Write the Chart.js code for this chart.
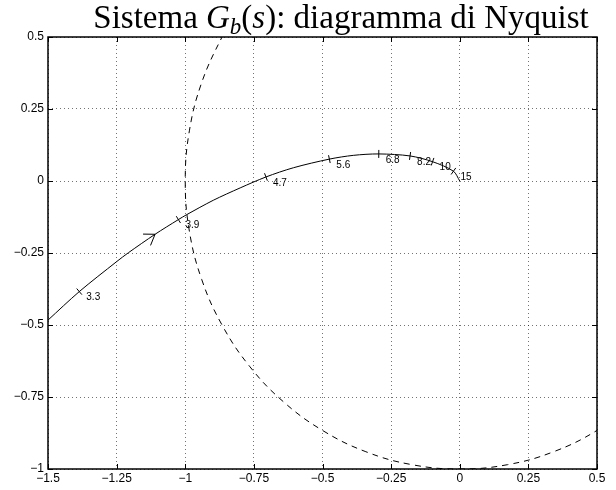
<!DOCTYPE html>
<html>
<head>
<meta charset="utf-8">
<script src="https://cdn.jsdelivr.net/npm/chart.js@4.4.1/dist/chart.umd.min.js"></script>
<style>
  html, body { margin: 0; padding: 0; background: #fff; }
</style>
</head>
<body>
<canvas id="nyq" width="616" height="490"></canvas>
<script>
// Nyquist curve of G_b(s)
const curveX = [-1.5, -1.386, -1.25, -1.207, -1.11, -1.025, -0.995, -0.898, -0.80, -0.706, -0.606, -0.475, -0.388, -0.295, -0.181, -0.099, -0.023, 0];
const curveY = [-0.483, -0.384, -0.280, -0.249, -0.185, -0.134, -0.117, -0.067, -0.024, 0.014, 0.046, 0.076, 0.089, 0.094, 0.087, 0.067, 0.034, 0];

// unit circle (dashed)
const circleX = [-0.819, -0.866, -0.940, -0.985, -1, -0.985, -0.940, -0.866, -0.766, -0.643, -0.5, -0.342, -0.174, 0, 0.174, 0.342, 0.5, 0.643];
const circleY = [0.574, 0.5, 0.342, 0.174, 0, -0.174, -0.342, -0.5, -0.643, -0.766, -0.866, -0.940, -0.985, -1, -0.985, -0.940, -0.866, -0.766];

// frequency marks on the curve
const markX = [-1.386, -1.025, -0.706, -0.475, -0.295, -0.181, -0.099, -0.023];
const markY = [-0.384, -0.134, 0.014, 0.076, 0.094, 0.087, 0.067, 0.034];
const markLabels = ['3.3', '3.9', '4.7', '5.6', '6.8', '8.2', '10', '15'];

// direction arrow
const arrowX = -1.11;
const arrowY = -0.185;

const xTicks = [-1.5, -1.25, -1, -0.75, -0.5, -0.25, 0, 0.25, 0.5];
const yTicks = [-1, -0.75, -0.5, -0.25, 0, 0.25, 0.5];

function fmt(v) {
  const s = String(Math.abs(v));
  return v < 0 ? '\u2212' + s : s;
}

function nearestIdx(x, y) {
  let best = 0, bd = Infinity;
  for (let i = 0; i < curveX.length; i++) {
    const d = (curveX[i] - x) ** 2 + (curveY[i] - y) ** 2;
    if (d < bd) { bd = d; best = i; }
  }
  return best;
}

function tangentAt(xs, ys, x, y) {
  const k = nearestIdx(x, y);
  const a = Math.max(0, k - 1), b = Math.min(curveX.length - 1, k + 1);
  const dx = xs.getPixelForValue(curveX[b]) - xs.getPixelForValue(curveX[a]);
  const dy = ys.getPixelForValue(curveY[b]) - ys.getPixelForValue(curveY[a]);
  const len = Math.hypot(dx, dy);
  return [dx / len, dy / len];
}

const frame = {
  id: 'frame',
  afterDatasetsDraw(chart) {
    const { ctx, chartArea: a } = chart;
    const xs = chart.scales.x, ys = chart.scales.y;
    ctx.save();
    ctx.strokeStyle = '#000';
    ctx.lineWidth = 1;
    // inward ticks
    ctx.beginPath();
    xTicks.forEach(v => {
      const px = Math.round(xs.getPixelForValue(v)) + 0.5;
      ctx.moveTo(px, a.bottom); ctx.lineTo(px, a.bottom - 5);
      ctx.moveTo(px, a.top); ctx.lineTo(px, a.top + 5);
    });
    yTicks.forEach(v => {
      const py = Math.round(ys.getPixelForValue(v)) + 0.5;
      ctx.moveTo(a.left, py); ctx.lineTo(a.left + 5, py);
      ctx.moveTo(a.right, py); ctx.lineTo(a.right - 5, py);
    });
    ctx.stroke();
    ctx.lineWidth = 1.5;
    ctx.strokeRect(a.left, a.top, a.right - a.left, a.bottom - a.top);

    // frequency marks + labels
    ctx.lineWidth = 1;
    ctx.font = '10px "Liberation Sans", Arial, sans-serif';
    ctx.fillStyle = '#000';
    ctx.textBaseline = 'middle';
    ctx.textAlign = 'left';
    markX.forEach((mx, i) => {
      const px = xs.getPixelForValue(mx), py = ys.getPixelForValue(markY[i]);
      const [tx, ty] = tangentAt(xs, ys, mx, markY[i]);
      ctx.beginPath();
      ctx.moveTo(px - ty * 4, py + tx * 4);
      ctx.lineTo(px + ty * 4, py - tx * 4);
      ctx.stroke();
      ctx.fillText(markLabels[i], px + 7, py + 6);
    });

    // arrow head
    const ax = xs.getPixelForValue(arrowX), ay = ys.getPixelForValue(arrowY);
    const [tx, ty] = tangentAt(xs, ys, arrowX, arrowY);
    const ang = Math.atan2(ty, tx);
    ctx.beginPath();
    [0.6, -0.6].forEach(d => {
      ctx.moveTo(ax, ay);
      ctx.lineTo(ax - 12 * Math.cos(ang + d), ay - 12 * Math.sin(ang + d));
    });
    ctx.stroke();
    ctx.restore();
  }
};

const title = {
  id: 'mtitle',
  afterDraw(chart) {
    const ctx = chart.ctx;
    const size = 33;
    const rm = size + 'px "Liberation Serif", "Times New Roman", serif';
    const it = 'italic ' + rm;
    const sub = 'italic ' + Math.round(size * 0.7) + 'px "Liberation Serif", serif';
    const parts = [
      ['Sistema ', rm, 0], ['G', it, 0], ['b', sub, 6], ['(', rm, 0],
      ['s', it, 0], ['): diagramma di Nyquist', rm, 0]
    ];
    ctx.save();
    let w = 0;
    parts.forEach(p => { ctx.font = p[1]; w += ctx.measureText(p[0]).width; });
    let x = 341 - w / 2;
    const base = 28;
    ctx.fillStyle = '#000';
    ctx.textBaseline = 'alphabetic';
    ctx.textAlign = 'left';
    parts.forEach(p => {
      ctx.font = p[1];
      ctx.fillText(p[0], x, base + p[2]);
      x += ctx.measureText(p[0]).width;
    });
    ctx.restore();
  }
};

const tickFont = { family: '"Liberation Sans", Arial, sans-serif', size: 12 };

new Chart(document.getElementById('nyq'), {
  type: 'scatter',
  data: {
    datasets: [
      {
        data: curveX.map((x, i) => ({ x, y: curveY[i] })),
        showLine: true, borderColor: '#000', borderWidth: 1,
        pointRadius: 0, tension: 0.3
      },
      {
        data: circleX.map((x, i) => ({ x, y: circleY[i] })),
        showLine: true, borderColor: '#000', borderWidth: 1, borderDash: [6, 5],
        pointRadius: 0, tension: 0.4
      }
    ]
  },
  options: {
    responsive: false,
    animation: false,
    devicePixelRatio: 1,
    layout: { padding: { left: 0, top: 37, right: 19, bottom: 0 } },
    plugins: { legend: { display: false }, tooltip: { enabled: false }, title: { display: false } },
    scales: {
      x: {
        type: 'linear', min: -1.5, max: 0.5,
        afterBuildTicks: s => { s.ticks = xTicks.map(v => ({ value: v })); },
        afterFit: s => { s.height = 21; },
        ticks: { autoSkip: false, maxRotation: 0, padding: 2, color: '#000', font: tickFont, callback: v => fmt(v) },
        grid: { color: 'rgba(0,0,0,0.55)', lineWidth: 1, drawTicks: false },
        border: { display: false, dash: [1, 3] }
      },
      y: {
        type: 'linear', min: -1, max: 0.5,
        afterBuildTicks: s => { s.ticks = yTicks.map(v => ({ value: v })); },
        afterFit: s => { s.width = 48; },
        ticks: { autoSkip: false, padding: 4, color: '#000', font: tickFont, callback: v => fmt(v) },
        grid: { color: 'rgba(0,0,0,0.55)', lineWidth: 1, drawTicks: false },
        border: { display: false, dash: [1, 3] }
      }
    }
  },
  plugins: [frame, title]
});
</script>
</body>
</html>
